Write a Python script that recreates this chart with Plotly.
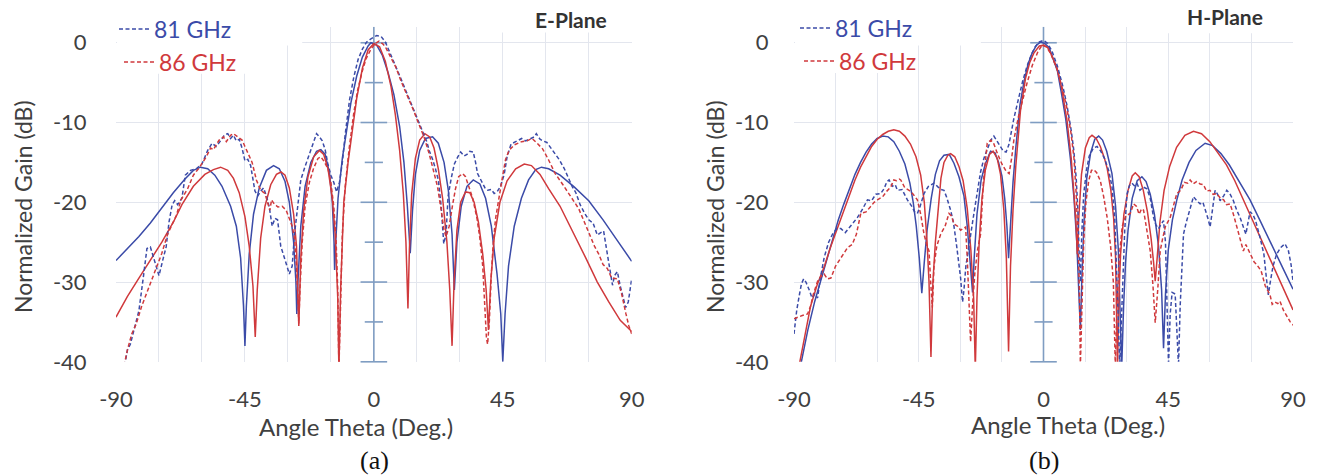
import plotly.graph_objects as go

# ---------------- DATA (theta [deg], normalized gain [dB]) ----------------
e81_sim = [(-90,-27.3),(-86,-25.8),(-82,-24.3),(-78,-22.6),(-74,-20.7),(-70,-18.8),(-66,-17.1),(-63,-16.0),
    (-60.5,-15.6),(-58,-15.8),(-55.5,-16.6),(-53,-18.0),(-50,-20.5),(-48,-23.0),(-46.5,-27.0),(-45.5,-33.0),
    (-45,-38.0),(-44.5,-33.0),(-43.5,-26.5),(-42,-21.5),(-40,-18.2),(-37.5,-16.0),(-35,-15.4),(-33,-15.8),
    (-31,-17.4),(-29.5,-20.0),(-28,-25.0),(-27.2,-30.0),(-26.9,-34.0),(-26.5,-30.0),(-25.5,-23.0),(-24,-18.0),
    (-22,-15.0),(-20,-13.6),(-18.5,-13.4),(-17,-14.0),(-15.5,-16.3),(-14.5,-20.0),(-13.9,-25.0),(-13.7,-28.5),
    (-13.3,-25.0),(-12.5,-19.5),(-11,-14.5),(-9.5,-11.0),(-8,-7.5),(-6,-4.2),(-4,-1.8),(-2,-0.4),(-1,0.0),
    (1,-0.3),(3,-1.6),(5,-3.8),(7,-6.5),(9,-10.5),(10.5,-15.0),(11.7,-20.5),(12.7,-26.4),(13.5,-21.0),
    (14.5,-16.5),(16,-13.5),(18,-12.0),(20.5,-11.8),(22.5,-12.6),(24.5,-15.0),(26,-18.5),(27.3,-24.0),
    (28.1,-31.0),(29,-25.0),(30.5,-20.5),(32.5,-18.0),(34.7,-17.2),(37,-17.7),(39,-19.5),(41,-23.0),
    (43,-29.0),(44.3,-34.0),(45,-40.0),(45.8,-34.0),(47,-28.0),(49,-23.0),(51.5,-19.5),(54,-17.2),
    (56.5,-15.9),(58.5,-15.6),(61,-15.8),(65,-16.6),(70,-18.1),(75,-19.8),(80,-22.2),(85,-24.8),(90,-27.4)]

e86_sim = [(-90,-34.4),(-86,-31.8),(-82,-29.5),(-78,-27.2),(-74,-25.0),(-70,-22.5),(-67,-20.3),(-63,-18.0),
    (-59,-16.5),(-56,-15.9),(-53.5,-15.6),(-51,-16.0),(-49,-17.0),(-47,-18.8),(-45,-21.8),(-43.5,-25.5),
    (-42.2,-30.5),(-41.4,-36.9),(-40.7,-31.0),(-39.5,-24.5),(-38,-20.5),(-36,-17.8),(-34,-16.5),(-32.4,-16.2),
    (-31,-16.6),(-29.5,-18.2),(-28,-21.5),(-27,-25.5),(-26.2,-35.5),(-25.5,-27.0),(-24.5,-21.0),(-23,-16.8),
    (-21,-14.3),(-19,-13.5),(-17.5,-14.0),(-16,-15.8),(-14.5,-19.5),(-13.5,-24.0),(-12.6,-32.0),(-12.2,-41.0),
    (-11.6,-31.0),(-10.5,-20.0),(-9,-15.0),(-7.5,-11.0),(-6,-7.0),(-4,-3.2),(-2,-0.9),(0,-0.1),(2,-0.5),
    (4,-2.3),(6,-5.5),(7.5,-9.0),(9,-13.5),(10.3,-19.0),(11.2,-25.0),(11.9,-33.3),(12.4,-26.0),(13.2,-19.0),
    (14.5,-14.5),(16,-12.2),(17.8,-11.4),(19.5,-11.8),(21,-13.2),(22.5,-15.8),(24,-19.5),(25.5,-25.0),
    (26.5,-31.0),(27.3,-38.0),(28,-30.0),(29,-23.5),(30.3,-20.0),(32,-18.7),(33.5,-18.8),(35,-20.0),
    (36.5,-22.5),(38,-26.5),(39.2,-31.0),(40,-36.0),(40.8,-30.0),(42,-24.5),(44,-20.0),(46.5,-17.3),
    (49.5,-15.8),(52.5,-15.2),(55,-15.4),(58,-16.5),(61,-18.3),(65,-20.5),(70,-24.0),(74,-27.0),(78,-30.0),
    (82,-32.5),(86,-34.8),(90,-36.2)]

e81_meas = [(-87,-40.5),(-86,-38.5),(-85,-37.8),(-83.5,-35.5),(-82,-33.6),(-80.5,-29.5),(-79.2,-25.8),
    (-78,-25.6),(-76.5,-27.5),(-75,-29.2),(-73.5,-27.0),(-72.5,-25.6),(-71.5,-22.5),(-70.4,-20.3),
    (-69.5,-19.8),(-68.5,-20.3),(-67,-19.5),(-65.8,-16.6),(-64,-16.0),(-62,-15.8),(-60,-15.2),(-58,-13.5),
    (-56.5,-12.6),(-55,-13.0),(-53.5,-12.3),(-52,-11.5),(-51,-11.4),(-50,-12.0),(-49,-11.6),(-48,-12.3),
    (-47,-12.1),(-46,-13.2),(-45,-14.8),(-44,-14.6),(-43,-15.4),(-42.4,-16.5),(-41.5,-18.6),(-40.5,-19.2),
    (-39.5,-18.6),(-38.5,-18.2),(-37.5,-19.2),(-36.5,-20.6),(-35.5,-23.0),(-34.5,-22.0),(-33.6,-22.2),
    (-32.5,-25.5),(-31.5,-26.8),(-30.5,-27.8),(-29.5,-29.0),(-28.5,-28.0),(-27.7,-24.0),(-26.5,-20.0),
    (-25.5,-17.2),(-24,-15.5),(-22.5,-14.0),(-21,-12.3),(-20,-11.4),(-19,-11.8),(-18,-12.3),(-17,-13.4),
    (-16,-15.3),(-15,-16.6),(-14,-17.5),(-13,-18.7),(-12,-17.5),(-11,-15.0),(-10,-11.5),(-8.5,-7.2),
    (-7,-4.3),(-5.5,-2.1),(-4,-0.8),(-2.5,0.1),(-1,0.5),(1,0.9),(2.5,0.8),(4,0.1),(5.5,-1.1),(7,-2.3),
    (8.5,-3.7),(10,-5.0),(11.5,-6.3),(12.7,-7.2),(14,-8.4),(15,-9.3),(16.4,-10.4),(17.5,-11.5),(18.5,-12.4),
    (19.3,-13.5),(20.5,-14.6),(21.5,-15.8),(22.5,-17.2),(23.5,-20.5),(24.4,-25.2),(25.2,-24.0),(25.9,-19.3),
    (27,-17.0),(28.1,-15.2),(29.3,-14.3),(30.3,-13.7),(31.5,-14.2),(32.5,-14.0),(33.5,-13.6),(34.7,-13.7),
    (35.5,-15.0),(36.2,-16.4),(37.5,-17.3),(38.8,-18.2),(39.8,-18.5),(41,-18.4),(42,-18.9),(43,-18.7),
    (44.2,-18.0),(45.5,-16.5),(46.5,-14.3),(47.9,-12.7),(49.5,-12.4),(51.6,-12.0),(53,-12.3),(54.5,-12.0),
    (56,-11.8),(56.7,-11.4),(58,-12.1),(59,-12.3),(60.4,-12.5),(62,-13.3),(63.5,-14.0),(64.8,-14.7),
    (66.5,-15.8),(68,-17.0),(69.2,-18.0),(70.5,-18.8),(72,-20.3),(73.6,-21.4),(75,-22.2),(76.5,-22.6),
    (78,-24.1),(79.2,-23.8),(80.2,-23.6),(81.5,-26.5),(83.3,-30.4),(84,-29.2),(85,-28.7),(86,-30.5),
    (87.9,-33.2),(88.8,-32.5),(90,-29.6)]

e86_meas = [(-87.2,-40.5),(-86,-38.5),(-84.5,-36.5),(-83,-35.3),(-81,-33.0),(-78.4,-30.6),(-76,-28.5),
    (-74,-26.4),(-72,-24.0),(-70,-22.5),(-69,-21.7),(-67.3,-19.7),(-65,-18.3),(-63,-16.6),(-61,-15.7),
    (-58.5,-14.3),(-57,-13.2),(-56,-13.4),(-54,-12.2),(-52.5,-11.8),(-51.5,-12.4),(-50,-11.6),(-49,-11.4),
    (-47.5,-11.8),(-46,-12.2),(-45,-13.0),(-43.8,-13.9),(-42.5,-15.0),(-41,-17.2),(-39.5,-18.5),(-38,-18.9),
    (-37,-20.2),(-36.3,-21.0),(-35.7,-19.7),(-35,-20.1),(-33.5,-20.6),(-32,-20.5),(-30.6,-21.0),(-29.5,-22.0),
    (-28.5,-23.0),(-27.7,-24.5),(-27,-28.0),(-26.5,-32.0),(-26.2,-35.2),(-25.8,-31.0),(-25,-25.0),
    (-24,-20.5),(-22.5,-17.5),(-21,-15.7),(-19.5,-14.5),(-18.5,-14.3),(-17.5,-14.8),(-16,-15.8),(-15,-17.5),
    (-14,-20.5),(-13.2,-24.5),(-12.6,-31.0),(-12.2,-41.0),(-11.7,-34.0),(-11,-24.0),(-10,-18.0),(-8.6,-13.2),
    (-7,-8.8),(-5.7,-6.0),(-4,-3.5),(-2.7,-2.0),(-1,-0.8),(0.5,-0.1),(1.8,0.2),(3,-0.1),(4,-0.5),(5.5,-1.5),
    (7.6,-3.0),(9.5,-4.8),(12,-6.8),(14,-8.6),(15.6,-10.1),(17.5,-11.8),(19.3,-13.9),(21,-16.2),(22.2,-18.0),
    (23.5,-21.0),(24.5,-23.5),(25.2,-24.3),(26.3,-23.0),(27.4,-20.5),(28.5,-18.3),(29.6,-16.8),(31,-16.4),
    (32,-16.8),(33.2,-18.0),(34.5,-19.5),(36,-22.0),(37,-24.5),(38,-28.0),(38.7,-33.0),(39.3,-37.0),
    (39.7,-37.8),(40.3,-35.0),(41,-29.0),(41.7,-25.0),(42.5,-22.0),(43.5,-19.7),(45,-16.6),(46,-14.6),
    (47.2,-13.5),(49,-12.8),(51.6,-12.4),(53.5,-12.3),(55.2,-12.0),(57,-12.6),(58.9,-13.3),(61,-14.7),
    (63.3,-16.4),(66,-17.8),(69,-19.5),(71.5,-20.8),(73.5,-22.5),(75,-23.8),(77,-25.5),(78.5,-26.5),
    (80,-27.8),(81.5,-28.3),(83,-29.5),(85,-29.6),(86.5,-31.5),(88,-34.0),(89,-35.5),(90,-36.5)]

h81_sim = [(-90,-44.5),(-87.5,-40.2),(-85,-36.0),(-82.5,-32.4),(-80,-29.3),(-78,-27.0),(-76,-24.6),
    (-74,-22.2),(-72,-20.2),(-70,-18.3),(-68,-16.5),(-66,-15.0),(-64,-13.7),(-62,-12.7),(-60,-12.0),
    (-58,-11.7),(-56,-11.8),(-54,-12.4),(-52,-13.6),(-50,-15.2),(-48.2,-17.6),(-47,-20.0),(-45.9,-23.0),
    (-44.8,-27.0),(-43.9,-31.4),(-43,-27.5),(-42,-23.5),(-40.5,-19.5),(-39,-16.5),(-37.5,-14.8),(-35.9,-14.1),
    (-34,-14.0),(-32.3,-15.1),(-30.5,-16.8),(-28.7,-19.2),(-27.5,-23.0),(-26.3,-28.0),(-25.6,-31.3),
    (-25,-27.0),(-24,-21.5),(-22.5,-17.2),(-21,-15.2),(-19.1,-13.6),(-17.5,-13.8),(-16.2,-15.0),(-15,-16.7),
    (-14,-19.5),(-13.2,-23.0),(-12.6,-27.0),(-12,-23.0),(-11,-17.5),(-10,-13.2),(-8.5,-7.8),(-7,-4.8),
    (-5.5,-2.6),(-4,-1.2),(-2.5,-0.3),(-1,0.1),(0.5,-0.1),(2,-0.6),(3.6,-2.1),(5,-3.5),(6.6,-6.6),(8,-9.5),
    (9.7,-14.5),(11,-19.5),(12,-25.0),(12.8,-31.0),(13.3,-36.0),(13.8,-30.0),(14.6,-22.5),(15.6,-17.0),
    (17,-13.8),(18.5,-12.1),(19.9,-11.7),(21.3,-12.2),(22.8,-13.6),(24.7,-16.4),(26,-20.5),(27,-26.0),
    (27.7,-33.0),(28.2,-40.8),(28.9,-33.0),(29.6,-27.5),(30.5,-23.5),(32,-19.5),(33.8,-17.3),(35.5,-16.8),
    (37,-17.4),(38.5,-19.0),(40,-21.5),(41.5,-25.5),(42.6,-31.0),(43.3,-38.3),(44,-31.5),(45,-26.0),
    (46.5,-22.2),(48.1,-19.7),(50,-17.2),(52.5,-15.0),(55,-13.5),(58.3,-12.6),(61,-12.9),(64,-13.9),
    (67,-15.3),(70,-17.0),(74.5,-19.7),(78,-22.2),(82,-25.0),(86,-28.0),(90,-30.9)]

h86_sim = [(-90,-43.0),(-88,-40.2),(-86,-36.6),(-84,-33.0),(-81.5,-30.2),(-79,-28.0),(-77,-25.8),
    (-74.3,-23.2),(-72,-20.8),(-70,-19.0),(-68,-17.2),(-66,-15.6),(-64,-14.2),(-62,-13.0),(-60,-12.1),
    (-58,-11.5),(-56,-11.1),(-54,-10.9),(-52,-11.1),(-50,-11.7),(-48,-12.7),(-46,-14.3),(-44.3,-16.6),
    (-43,-20.0),(-42,-25.0),(-41.3,-30.0),(-40.6,-39.4),(-39.9,-30.0),(-39,-25.0),(-38,-20.5),(-37,-17.0),
    (-35.9,-15.0),(-34.5,-14.1),(-33.5,-13.9),(-32,-14.3),(-30.5,-15.5),(-29,-17.3),(-27.5,-20.8),
    (-26.2,-26.0),(-25.2,-32.0),(-24.6,-41.0),(-24,-32.0),(-23.2,-25.0),(-22.2,-19.5),(-21,-16.0),
    (-19.5,-14.0),(-18.2,-13.6),(-16.7,-14.5),(-15.5,-16.5),(-14.3,-21.0),(-13.4,-27.0),(-12.6,-38.7),
    (-11.9,-28.0),(-11,-21.0),(-10,-15.5),(-8.3,-8.5),(-6.5,-4.5),(-5,-2.5),(-3.5,-1.3),(-1.5,-0.4),
    (0.1,-0.3),(1.5,-0.6),(3,-1.6),(4.9,-3.2),(6.5,-5.6),(8.5,-9.8),(10,-14.5),(11,-19.0),(11.7,-22.5),
    (12.2,-26.5),(12.8,-21.5),(13.7,-16.5),(15.1,-13.2),(16.5,-11.9),(17.5,-11.6),(19,-12.0),(20.5,-13.0),
    (22,-14.5),(23,-15.8),(24.3,-18.5),(25.3,-22.0),(26,-27.0),(26.4,-33.0),(26.7,-41.0),(27.2,-32.0),
    (27.8,-26.5),(29,-21.5),(30.5,-18.5),(32,-16.7),(33.1,-16.3),(34.5,-16.8),(36,-18.5),(37.5,-21.2),
    (38.8,-24.5),(39.7,-27.5),(40.3,-29.9),(41,-27.0),(42,-22.5),(43.5,-18.5),(45.5,-15.5),(48,-13.1),
    (51,-11.6),(54.1,-11.1),(57,-11.4),(60,-12.4),(63,-13.8),(66,-15.3),(69,-17.3),(72.1,-19.7),(76,-22.5),
    (80,-25.6),(85,-29.6),(90,-33.5)]

h81_meas = [(-90,-36.5),(-89,-33.5),(-88,-31.5),(-87.3,-30.2),(-86.5,-29.6),(-85.7,-30.0),(-84.5,-31.0),
    (-83.5,-32.0),(-82.5,-31.5),(-81.5,-32.0),(-80.5,-29.5),(-79.1,-26.9),(-77.5,-25.0),(-76.1,-24.0),
    (-74.5,-23.3),(-73.1,-23.3),(-71.5,-23.8),(-70,-23.2),(-68.5,-22.5),(-67.1,-21.9),(-65.5,-21.0),
    (-63.5,-19.7),(-62,-19.8),(-60.5,-19.0),(-58.7,-18.9),(-57.5,-18.3),(-56.5,-17.4),(-55.7,-17.2),
    (-54.5,-18.0),(-53.5,-17.8),(-52.7,-18.5),(-51,-18.4),(-49.1,-19.7),(-47.5,-20.5),(-46.5,-21.2),
    (-45.5,-21.4),(-44.5,-20.5),(-43.1,-18.9),(-41.5,-18.0),(-39.5,-17.6),(-38,-18.1),(-37,-18.4),
    (-35.9,-18.5),(-35,-19.3),(-33.5,-21.0),(-32.5,-22.5),(-31.5,-25.0),(-30.5,-27.5),(-29.9,-29.5),
    (-29.2,-32.5),(-28.7,-31.0),(-28,-28.0),(-27.2,-26.0),(-26.5,-24.5),(-25.1,-21.4),(-24,-19.0),
    (-22.7,-16.2),(-21.5,-14.5),(-20,-13.0),(-19,-12.2),(-17.9,-11.7),(-17,-12.2),(-16,-12.8),(-15.5,-13.0),
    (-14.5,-13.6),(-13.5,-13.7),(-12.5,-12.8),(-11.5,-11.0),(-10.7,-9.5),(-9,-7.0),(-7.5,-4.8),(-5.9,-2.9),
    (-4.5,-1.6),(-3,-0.5),(-1.5,0.1),(0,0.3),(1.5,-0.1),(3,-1.0),(5,-2.9),(7,-5.5),(8.5,-7.9),(10,-11.0),
    (10.9,-13.4),(11.8,-17.0),(12.4,-21.0),(12.9,-27.0),(13.3,-30.0),(13.8,-24.0),(14.5,-19.0),(15.5,-16.0),
    (16.5,-14.2),(18,-13.2),(19.3,-13.0),(20.5,-13.5),(22,-14.5),(23.5,-16.0),(24.7,-18.0),(25.7,-22.0),
    (26.4,-28.0),(27,-35.0),(27.5,-40.5),(28,-36.0),(28.6,-29.0),(29.3,-23.5),(30.1,-19.0),(31,-17.9),
    (31.9,-17.6),(33,-18.0),(33.8,-17.7),(34.8,-18.5),(36,-18.1),(37.3,-18.3),(38.5,-19.5),(39.7,-21.9),
    (40.5,-22.8),(41.5,-23.3),(42.5,-22.7),(43.3,-22.3),(44,-25.0),(44.6,-33.0),(45.1,-40.5),(45.7,-34.0),
    (46.4,-31.3),(47.5,-31.5),(48.2,-36.0),(48.7,-40.5),(49.3,-33.0),(50,-27.0),(50.5,-24.0),(51.5,-22.5),
    (52.9,-20.6),(54.1,-19.3),(55.3,-19.8),(56.5,-20.2),(57.5,-20.0),(58.5,-21.0),(59.3,-22.0),(60.1,-23.1),
    (60.8,-21.0),(61.9,-18.5),(62.8,-19.0),(63.7,-19.8),(65,-19.2),(66.1,-18.5),(67.2,-18.9),(68.5,-19.8),
    (69.7,-21.0),(70.9,-21.9),(72,-23.0),(73,-24.0),(73.8,-22.5),(74.5,-21.2),(75.5,-21.5),(76.5,-22.3),
    (78.1,-24.4),(79.5,-26.5),(80.4,-29.5),(81.1,-31.6),(81.8,-30.0),(82.8,-28.0),(84.1,-26.5),(85.5,-25.7),
    (87.1,-25.2),(88.3,-26.0),(89.3,-27.8),(90,-29.9)]

h86_meas = [(-90,-34.6),(-88.7,-34.4),(-87,-34.2),(-85.1,-34.0),(-84,-33.0),(-83,-31.5),(-81.5,-29.9),
    (-80.5,-29.4),(-79.1,-29.0),(-78,-29.6),(-76.7,-29.5),(-75,-28.0),(-73,-27.0),(-70.7,-25.7),(-69,-25.3),
    (-67.5,-24.0),(-65.9,-21.4),(-64,-21.2),(-62.5,-20.6),(-61.1,-20.0),(-59.9,-19.7),(-58,-19.3),
    (-56.5,-18.6),(-55.1,-18.1),(-54,-17.2),(-53,-17.3),(-52,-17.1),(-51.5,-17.2),(-50,-18.2),(-48.5,-18.5),
    (-47,-19.0),(-45.5,-19.7),(-44.3,-21.5),(-43.1,-24.0),(-42,-25.5),(-41.3,-26.1),(-40.7,-30.0),
    (-40.1,-33.2),(-39.5,-28.0),(-38.5,-25.5),(-37.1,-24.0),(-35.5,-23.0),(-34.1,-21.4),(-33.2,-21.7),
    (-32.3,-22.7),(-31,-23.0),(-29.9,-23.5),(-28.8,-23.3),(-28.1,-23.1),(-27.5,-27.0),(-27,-32.0),
    (-26.3,-37.5),(-25.6,-33.0),(-24.8,-29.0),(-23.8,-26.0),(-22.7,-24.0),(-21.7,-17.5),(-20.3,-12.6),
    (-19,-12.2),(-18,-12.6),(-16.5,-14.0),(-15,-15.2),(-13.5,-16.1),(-12.4,-16.4),(-11.5,-14.5),
    (-10.7,-12.2),(-9,-9.2),(-7.5,-7.0),(-5.9,-5.0),(-4,-2.8),(-2,-1.1),(-0.5,-0.3),(1,-0.5),(2.5,-1.3),
    (4.9,-3.3),(7,-6.0),(8.5,-8.3),(10,-11.5),(11,-14.5),(11.8,-19.0),(12.5,-25.0),(13,-32.0),(13.3,-40.5),
    (13.8,-34.0),(14.5,-25.0),(15.3,-20.0),(16.3,-17.3),(17.3,-16.0),(18.1,-15.9),(19.2,-16.3),(20.5,-17.3),
    (21.7,-19.3),(23,-22.0),(24.2,-25.5),(25.2,-30.0),(25.9,-40.5),(26.5,-33.0),(27.3,-27.0),(28.4,-23.0),
    (29.7,-21.7),(31.3,-21.4),(32.5,-20.2),(33.5,-20.5),(34.5,-21.5),(35.4,-20.8),(36.1,-21.0),(37.2,-23.5),
    (38.5,-26.1),(39.5,-30.5),(40.3,-35.1),(41.2,-31.0),(42.1,-26.1),(43,-24.5),(44,-23.0),(45.7,-21.9),
    (46.8,-20.5),(48.1,-18.9),(49.5,-18.5),(50.8,-17.5),(52,-17.6),(52.9,-17.2),(54,-17.7),(55.2,-17.4),
    (56.5,-17.7),(57.7,-17.8),(58.8,-18.6),(60,-18.5),(61.2,-19.0),(62.5,-18.9),(63.8,-19.5),(65,-19.7),
    (66,-20.3),(67.3,-20.2),(68.5,-21.5),(69.7,-23.0),(71,-24.6),(72.1,-26.1),(73,-25.3),(74.5,-26.5),
    (76,-27.5),(76.9,-27.8),(78.5,-28.6),(80,-30.5),(81.7,-31.6),(82.5,-32.8),(83.5,-32.5),(84.5,-32.7),
    (85.3,-32.4),(86.5,-33.5),(88,-34.3),(89,-35.0),(90.1,-35.4)]

x_ticks = [-90, -45, 0, 45, 90]
x_tick_text = ["-90", "-45", "0", "45", "90"]
y_ticks = [0, -10, -20, -30, -40]
y_tick_text = ["0", "-10", "-20", "-30", "-40"]
y_minor_ticks = [-5, -15, -25, -35]
series_names = ["81 GHz", "86 GHz"]
panel_titles = ["E-Plane", "H-Plane"]
panel_tags = ["(a)", "(b)"]

# ---------------- STYLE ----------------
BLUE = "#3B4BA8"
RED = "#D0393C"
AXIS_BLUE = "#7F9DC2"
GRID = "#E3E6EE"
TXT = "#404040"
FONT = "Lato"
W, H = 1317, 475

def px(x):
    return x / W

def py(y):
    return 1 - y / H

Y_DOM = [py(361.8), py(26.8)]
X_DOM = [[px(116), px(631.7)], [px(794), px(1293)]]

fig = go.Figure()

def xs(pts):
    return [p[0] for p in pts]

def ys(pts):
    return [p[1] for p in pts]

panels = [
    (e81_sim, e86_sim, e81_meas, e86_meas),
    (h81_sim, h86_sim, h81_meas, h86_meas),
]

DASH = "4px,2.5px"
for i, (b_sim, r_sim, b_meas, r_meas) in enumerate(panels):
    xa = "x" if i == 0 else "x2"
    ya = "y" if i == 0 else "y2"
    # y axis line crossing at theta = 0 (Excel style) with cross ticks
    fig.add_trace(go.Scatter(x=[0, 0], y=[-40, 2], mode="lines", line=dict(color=AXIS_BLUE, width=1.6),
                             xaxis=xa, yaxis=ya, showlegend=False, hoverinfo="skip", cliponaxis=False))
    fig.add_trace(go.Scatter(x=[0] * len(y_ticks), y=y_ticks, mode="markers",
                             marker=dict(symbol="line-ew", size=19, line=dict(color=AXIS_BLUE, width=1.6)),
                             xaxis=xa, yaxis=ya, showlegend=False, hoverinfo="skip", cliponaxis=False))
    fig.add_trace(go.Scatter(x=[0] * len(y_minor_ticks), y=y_minor_ticks, mode="markers",
                             marker=dict(symbol="line-ew", size=13, line=dict(color=AXIS_BLUE, width=1.6)),
                             xaxis=xa, yaxis=ya, showlegend=False, hoverinfo="skip", cliponaxis=False))
    # simulated (solid)
    fig.add_trace(go.Scatter(x=xs(b_sim), y=ys(b_sim), mode="lines", line=dict(color=BLUE, width=1.5),
                             xaxis=xa, yaxis=ya, showlegend=False, name=series_names[0] + " sim"))
    fig.add_trace(go.Scatter(x=xs(r_sim), y=ys(r_sim), mode="lines", line=dict(color=RED, width=1.5),
                             xaxis=xa, yaxis=ya, showlegend=False, name=series_names[1] + " sim"))
    # measured (dashed) - these appear in legend
    fig.add_trace(go.Scatter(x=xs(b_meas), y=ys(b_meas), mode="lines",
                             line=dict(color=BLUE, width=1.5, dash=DASH),
                             xaxis=xa, yaxis=ya, name=series_names[0],
                             legend="legend" if i == 0 else "legend3"))
    fig.add_trace(go.Scatter(x=xs(r_meas), y=ys(r_meas), mode="lines",
                             line=dict(color=RED, width=1.5, dash=DASH),
                             xaxis=xa, yaxis=ya, name=series_names[1],
                             legend="legend2" if i == 0 else "legend4"))

axis_common = dict(range=[-90, 90], tickvals=x_ticks, ticktext=x_tick_text, showgrid=True, gridcolor=GRID,
                   gridwidth=1, zeroline=False, showline=False, ticks="outside", ticklen=18, automargin=False,
                   tickcolor="rgba(0,0,0,0)", tickfont=dict(family=FONT, size=22, color=TXT),
                   minor=dict(dtick=15, showgrid=True, gridcolor=GRID, gridwidth=1), fixedrange=True)
yaxis_common = dict(range=[-40, 2], tickvals=y_ticks, ticktext=y_tick_text, showgrid=True, gridcolor=GRID,
                    gridwidth=1, zeroline=False, showline=False, ticks="outside", automargin=False,
                    tickcolor="rgba(0,0,0,0)", tickfont=dict(family=FONT, size=22, color=TXT),
                    domain=Y_DOM, fixedrange=True)

fig.update_layout(
    width=W, height=H, margin=dict(l=0, r=0, t=0, b=0, autoexpand=False),
    paper_bgcolor="white", plot_bgcolor="white",
    font=dict(family=FONT, color=TXT),
    xaxis=dict(axis_common, domain=X_DOM[0], anchor="y"),
    yaxis=dict(yaxis_common, anchor="x", ticklen=24),
    xaxis2=dict(axis_common, domain=X_DOM[1], anchor="y2"),
    yaxis2=dict(yaxis_common, anchor="x2", ticklen=20),
)

def leg(x, y, color):
    return dict(x=px(x), y=py(y), xanchor="left", yanchor="middle", bgcolor="rgba(0,0,0,0)",
                borderwidth=0, itemwidth=30, font=dict(family=FONT, size=23, color=color),
                tracegroupgap=0)

fig.update_layout(
    legend=leg(114, 29, BLUE), legend2=leg(119, 62, RED),
    legend3=leg(795, 28, BLUE), legend4=leg(799, 61, RED),
)

# white boxes behind the legend / title areas (hide gridlines like the original)
boxes = [
    ("x", "y", -89.6, -25, -0.35, 2), ("x", "y", -89.6, -37, -3.9, 2), ("x", "y", 40, 89.6, 1.3, 2),
    ("x2", "y2", -89.6, -22.6, -0.35, 2), ("x2", "y2", -89.6, -50, -3.8, 2), ("x2", "y2", 40, 89.6, 1.2, 2),
]
for xr, yr, x0, x1, y0, y1 in boxes:
    fig.add_shape(type="rect", xref=xr, yref=yr, x0=x0, x1=x1, y0=y0, y1=y1,
                  fillcolor="white", line=dict(width=0), layer="between")

ann = []
# panel titles
for title, xc, yc in [(panel_titles[0], 571, 19), (panel_titles[1], 1225, 17)]:
    ann.append(dict(text="<b>" + title + "</b>", x=px(xc), y=py(yc), xref="paper", yref="paper",
                    showarrow=False, font=dict(family=FONT, size=21, color="#333333"),
                    xanchor="center", yanchor="middle"))
# axis titles
for xc, yc in [(356, 426), (1068, 424)]:
    ann.append(dict(text="Angle Theta (Deg.)", x=px(xc), y=py(yc), xref="paper", yref="paper",
                    showarrow=False, font=dict(family=FONT, size=24, color=TXT),
                    xanchor="center", yanchor="middle"))
for xc, yc in [(23, 207), (715, 207)]:
    ann.append(dict(text="Normalized Gain (dB)", x=px(xc), y=py(yc), xref="paper", yref="paper",
                    showarrow=False, textangle=-90, font=dict(family=FONT, size=23, color=TXT),
                    xanchor="center", yanchor="middle"))
# (a) / (b)
for tag, xc in [(panel_tags[0], 374), (panel_tags[1], 1044)]:
    ann.append(dict(text=tag, x=px(xc), y=py(460), xref="paper", yref="paper", showarrow=False,
                    font=dict(family="Liberation Serif", size=26, color="#111111"),
                    xanchor="center", yanchor="middle"))
fig.update_layout(annotations=ann)

fig.write_html("out.html", config={"displayModeBar": False, "staticPlot": False},
               post_script="document.body.style.margin='0';document.body.style.padding='0';"
                           "document.body.style.overflow='hidden';")
